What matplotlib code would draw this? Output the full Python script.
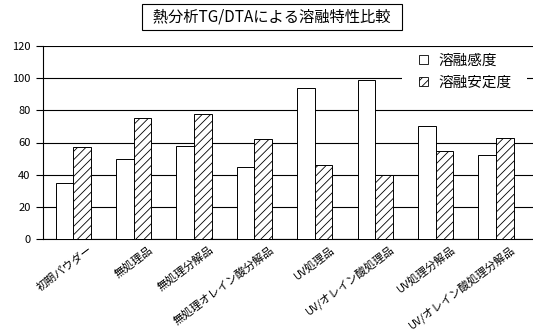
import matplotlib.pyplot as plt
import matplotlib.transforms as mtransforms
from matplotlib.patches import Rectangle
import numpy as np

plt.rcParams['font.family'] = ['Noto Sans CJK JP', 'DejaVu Sans']
plt.rcParams['hatch.linewidth'] = 0.6
plt.rcParams['hatch.color'] = '#555555'

categories = ['初期パウダー', '無処理品', '無処理分解品', '無処理オレイン酸分解品',
              'UV処理品', 'UV/オレイン酸処理品', 'UV処理分解品', 'UV/オレイン酸処理分解品']
sensitivity = [35, 50, 58, 44.5, 94, 99, 70, 52]
stability = [57.5, 75, 78, 62, 46, 40, 55, 63]

fig = plt.figure(figsize=(5.33, 3.33), dpi=100)
ax = fig.add_axes([43 / 533, 1 - 239 / 333, 490 / 533, 193 / 333])

x = np.arange(len(categories))
w = 0.29
ax.bar(x - w / 2, sensitivity, w, color='white', edgecolor='black', linewidth=0.7,
       label='溶融感度', zorder=3)
ax.bar(x + w / 2, stability, w, color='white', edgecolor='black', linewidth=0.7,
       hatch='////', label='溶融安定度', zorder=3)

ax.set_xlim(-0.5, -0.5 + 490 / 60.4)
ax.set_ylim(0, 120)
ax.set_yticks(range(0, 121, 20))
ax.yaxis.grid(True, color='black', linewidth=0.8)
ax.set_axisbelow(True)
for s in ['top', 'right']:
    ax.spines[s].set_visible(False)
ax.spines['left'].set_linewidth(0.8)
ax.spines['bottom'].set_linewidth(0.8)
ax.tick_params(axis='y', labelsize=8, length=5, width=0.8, pad=4)
ax.tick_params(axis='x', length=0, pad=6)
ax.set_xticks(x)
ax.set_xticklabels(categories, rotation=37, ha='right', va='center',
                   rotation_mode='anchor', fontsize=8)
offset = mtransforms.ScaledTranslation(0.18, -0.01, fig.dpi_scale_trans)
for lbl in ax.get_xticklabels():
    lbl.set_transform(lbl.get_transform() + offset)

# white area behind the legend, covering the gridlines
ax.add_patch(Rectangle((402 / 533, 1 - 105 / 333), 125 / 533, 52 / 333,
                       transform=fig.transFigure, facecolor='white', edgecolor='none',
                       zorder=2, clip_on=False))

leg = ax.legend(loc='upper left', bbox_to_anchor=(419 / 533, 1 - 54 / 333),
                bbox_transform=fig.transFigure, frameon=False, fontsize=10.5,
                handlelength=0.6, handleheight=0.6, handletextpad=0.75,
                borderpad=0, labelspacing=0.5, borderaxespad=0)
for h in leg.legend_handles:
    h.set_linewidth(0.6)

fig.text(272 / 533, 1 - 17 / 333, '  熱分析TG/DTAによる溶融特性比較  ', ha='center', va='center',
         fontsize=11, bbox=dict(facecolor='white', edgecolor='black', linewidth=0.8,
                                boxstyle='square,pad=0.3'))

fig.savefig('out.png', dpi=100)
